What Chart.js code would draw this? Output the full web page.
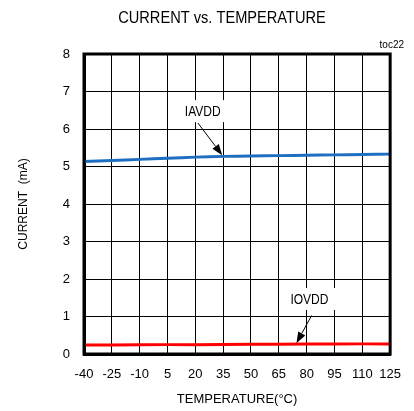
<!DOCTYPE html>
<html>
<head>
<meta charset="utf-8">
<script src="https://cdn.jsdelivr.net/npm/chart.js@4/dist/chart.umd.min.js"></script>
<style>
  html, body { margin: 0; padding: 0; background: #fff; }
  #wrap { width: 414px; height: 411px; }
</style>
</head>
<body>
<div id="wrap"><canvas id="chart" width="414" height="411"></canvas></div>
<script>
// data
const temps = [-40, -25, -10, 5, 20, 35, 50, 65, 80, 95, 110, 125];
const iavdd = [5.13, 5.16, 5.19, 5.22, 5.25, 5.27, 5.28, 5.29, 5.30, 5.31, 5.32, 5.33];
const iovdd = [0.24, 0.24, 0.245, 0.25, 0.25, 0.255, 0.26, 0.26, 0.265, 0.265, 0.27, 0.27];
const xTicks = [-40, -25, -10, 5, 20, 35, 50, 65, 80, 95, 110, 125];
const yTicks = [0, 1, 2, 3, 4, 5, 6, 7, 8];

// labels with arrows: [text, labelX, labelY, tailX, tailY, headX, headY]
const notes = [
  ['IAVDD', 24, 6.45, 21.4, 6.16, 34.5, 5.3],
  ['IOVDD', 81.5, 1.44, 82.7, 1.03, 74.5, 0.29]
];

const FONT = '"Liberation Sans", Arial, sans-serif';

// texte condensé (police type Arial Narrow)
function narrowText(ctx, txt, x, y, size, sx) {
  ctx.save();
  ctx.font = size + 'px ' + FONT;
  ctx.translate(x, y);
  ctx.scale(sx, 1);
  ctx.textAlign = 'center';
  ctx.textBaseline = 'middle';
  ctx.fillText(txt, 0, 0);
  ctx.restore();
}

// titre, cadre, annotations
const decor = {
  id: 'decor',
  afterDatasetsDraw(chart) {
    const { ctx, chartArea: a, scales: { x, y } } = chart;
    ctx.save();
    // cadre épais
    ctx.strokeStyle = '#000';
    ctx.lineWidth = 3;
    ctx.strokeRect(a.left, a.top, a.right - a.left, a.bottom - a.top);

    // titres
    ctx.fillStyle = '#000';
    narrowText(ctx, 'CURRENT vs. TEMPERATURE', 222, 18, 17, 0.86);
    ctx.font = '10px ' + FONT;
    ctx.textAlign = 'right';
    ctx.textBaseline = 'middle';
    ctx.fillText('toc22', 404, 45);

    // annotations
    notes.forEach(n => {
      const lx = x.getPixelForValue(n[1]), ly = y.getPixelForValue(n[2]);
      const tx = x.getPixelForValue(n[3]), ty = y.getPixelForValue(n[4]);
      const hx = x.getPixelForValue(n[5]), hy = y.getPixelForValue(n[6]);
      ctx.font = '14px ' + FONT;
      const w = ctx.measureText(n[0]).width * 0.86;
      ctx.fillStyle = '#fff';
      ctx.fillRect(lx - w / 2 - 7, ly - 12, w + 14, 22);
      ctx.fillStyle = '#000';
      narrowText(ctx, n[0], lx, ly, 14, 0.86);
      // flèche
      const ang = Math.atan2(hy - ty, hx - tx);
      const len = 11;
      const bx = hx - len * Math.cos(ang), by = hy - len * Math.sin(ang);
      ctx.strokeStyle = '#000';
      ctx.lineWidth = 1;
      ctx.beginPath();
      ctx.moveTo(tx, ty);
      ctx.lineTo(bx, by);
      ctx.stroke();
      ctx.beginPath();
      ctx.moveTo(hx, hy);
      ctx.lineTo(bx + 4 * Math.sin(ang), by - 4 * Math.cos(ang));
      ctx.lineTo(bx - 4 * Math.sin(ang), by + 4 * Math.cos(ang));
      ctx.closePath();
      ctx.fill();
    });
    ctx.restore();
  }
};

new Chart(document.getElementById('chart'), {
  type: 'line',
  data: {
    datasets: [
      { label: 'IAVDD', data: temps.map((t, i) => ({ x: t, y: iavdd[i] })),
        borderColor: '#1f6fc1', borderWidth: 3, pointRadius: 0, fill: false, tension: 0.3 },
      { label: 'IOVDD', data: temps.map((t, i) => ({ x: t, y: iovdd[i] })),
        borderColor: '#ff0000', borderWidth: 3, pointRadius: 0, fill: false, tension: 0 }
    ]
  },
  options: {
    responsive: false,
    animation: false,
    layout: { padding: { top: 54, right: 10, left: 12, bottom: 0 } },
    plugins: { legend: { display: false }, tooltip: { enabled: false }, title: { display: false } },
    scales: {
      x: {
        type: 'linear', min: -40, max: 125,
        afterBuildTicks: s => { s.ticks = xTicks.map(v => ({ value: v })); },
        afterFit: s => { s.height = 57; },
        grid: { color: '#000', lineWidth: 1, drawTicks: false },
        border: { color: '#000', width: 3 },
        ticks: { color: '#000', padding: 13, font: { family: FONT, size: 13 }, maxRotation: 0 },
        title: { display: true, text: 'TEMPERATURE(°C)', color: '#000', padding: { top: 8 },
                 font: { family: FONT, size: 13 } }
      },
      y: {
        min: 0, max: 8,
        afterBuildTicks: s => { s.ticks = yTicks.map(v => ({ value: v })); },
        afterFit: s => { s.width = 72; },
        grid: { color: '#000', lineWidth: 1, drawTicks: false },
        border: { color: '#000', width: 3 },
        ticks: { color: '#000', padding: 14, font: { family: FONT, size: 13 } },
        title: { display: true, text: 'CURRENT  (mA)', color: '#000', padding: { bottom: 4 },
                 font: { family: FONT, size: 12 } }
      }
    }
  },
  plugins: [decor]
});
</script>
</body>
</html>
